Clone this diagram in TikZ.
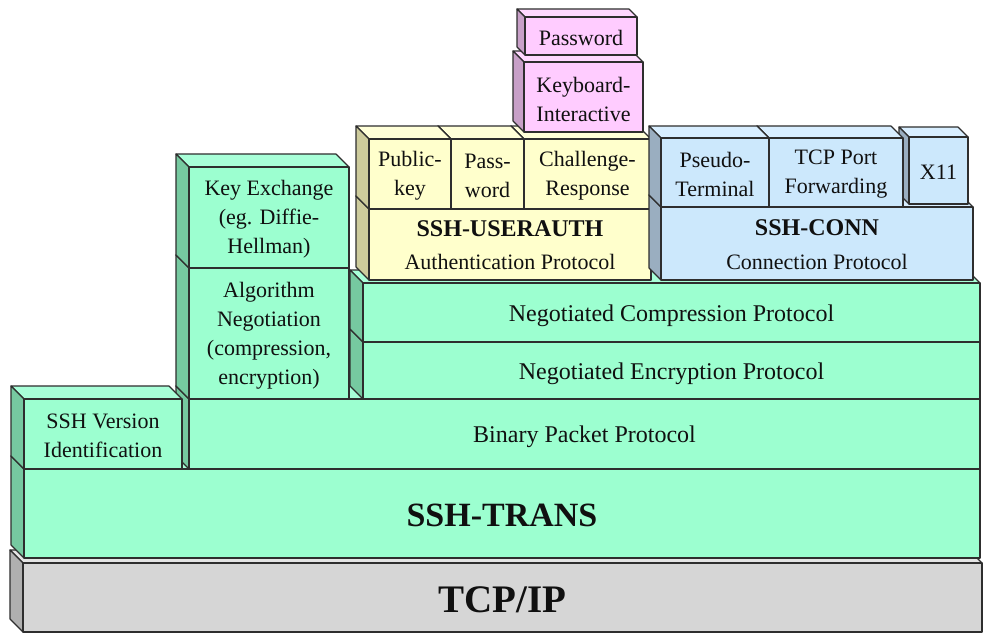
\documentclass[tikz,border=0pt]{standalone}
\usepackage{fontspec}
\setmainfont{Liberation Serif}
\definecolor{edge}{HTML}{2E2E2E}
\definecolor{ink}{HTML}{101010}
\definecolor{gF}{HTML}{9CFFD0}
\definecolor{gS}{HTML}{76C9A0}
\definecolor{gT}{HTML}{A8FFD8}
\definecolor{yF}{HTML}{FFFFCC}
\definecolor{yS}{HTML}{CDCB9C}
\definecolor{yT}{HTML}{FFFFD8}
\definecolor{pF}{HTML}{FFCCFF}
\definecolor{pS}{HTML}{C8A0C8}
\definecolor{pT}{HTML}{FFD8FF}
\definecolor{bF}{HTML}{CCE8FC}
\definecolor{bS}{HTML}{9AAEC0}
\definecolor{bT}{HTML}{D8EEFF}
\definecolor{kF}{HTML}{D6D6D6}
\definecolor{kS}{HTML}{B0B0B0}
\definecolor{kT}{HTML}{E4E4E4}
\tikzset{
  face/.style={draw=edge, line width=1.1pt, line join=round},
  txt/.style={text=ink, align=center, inner sep=0pt, yshift=-2pt, font=\fontsize{22}{29}\selectfont},
  big/.style={txt, yshift=-1pt, font=\fontsize{24}{29}\selectfont},
  huge/.style={txt, font=\fontsize{34}{40}\selectfont\bfseries},
  giant/.style={txt, font=\fontsize{39}{44}\selectfont\bfseries},
}
% name, x1, y1, x2, y2, depth, scheme, text, style
\newcommand{\layerbox}[9]{%
  \filldraw[face, fill=#7T] (#2,#3) -- (#4,#3) -- (#4-#6,#3-#6) -- (#2-#6,#3-#6) -- cycle;
  \filldraw[face, fill=#7S] (#2,#3) -- (#2-#6,#3-#6) -- (#2-#6,#5-#6) -- (#2,#5) -- cycle;
  \filldraw[face, fill=#7F] (#2,#3) rectangle (#4,#5);
  \node[#9] (#1) at ({(#2+#4)/2},{(#3+#5)/2}) {#8};
}
\begin{document}
\begin{tikzpicture}[x=1pt,y=-1pt]
\useasboundingbox (0,0) rectangle (994,643);
\fill[white] (0,0) rectangle (994,643);
% base
\layerbox{tcpip}{23}{563}{982}{632}{13}{k}{TCP/IP}{giant}
\layerbox{trans}{24}{469}{980}{558}{13}{g}{SSH-TRANS}{huge}
\layerbox{bpp}{189}{399}{980}{469}{13}{g}{Binary Packet Protocol}{big}
\layerbox{ver}{24}{399}{182}{469}{13}{g}{SSH Version\\Identification}{txt}
\layerbox{enc}{363}{342}{980}{399}{13}{g}{Negotiated Encryption Protocol}{big}
\layerbox{comp}{363}{283}{980}{342}{13}{g}{Negotiated Compression Protocol}{big}
\layerbox{alg}{189}{268}{349}{399}{13}{g}{Algorithm\\Negotiation\\(compression,\\encryption)}{txt}
\layerbox{kex}{189}{167}{349}{268}{13}{g}{Key Exchange\\(eg. Diffie-\\Hellman)}{txt}
% user auth
\layerbox{auth}{369}{209}{651}{280}{13}{y}{}{txt}
\node[txt, yshift=2pt, font=\fontsize{24}{29}\selectfont\bfseries] (authA) at (510,229) {SSH-USERAUTH};
\node[txt, yshift=2pt] (authB) at (510,262) {Authentication Protocol};
\layerbox{chal}{524}{139}{651}{209}{13}{y}{Challenge-\\Response}{txt}
\layerbox{pw}{451}{139}{524}{209}{13}{y}{Pass-\\word}{txt}
\layerbox{pk}{369}{139}{451}{209}{13}{y}{Public-\\key}{txt}
\layerbox{kbd}{524}{62}{643}{132}{11}{p}{Keyboard-\\Interactive}{txt}
\layerbox{pwt}{525}{17}{637}{55}{8}{p}{Password}{txt}
% connection
\layerbox{conn}{661}{207}{973}{280}{12}{b}{}{txt}
\node[txt, yshift=2pt, font=\fontsize{24}{29}\selectfont\bfseries] (connA) at (817,228) {SSH-CONN};
\node[txt, yshift=2pt] (connB) at (817,262) {Connection Protocol};
\layerbox{x11}{909}{137}{968}{204}{10}{b}{X11}{txt}
\layerbox{tcpf}{769}{138}{903}{207}{12}{b}{TCP Port\\Forwarding}{txt}
\layerbox{pty}{661}{138}{769}{207}{12}{b}{Pseudo-\\Terminal}{txt}
\end{tikzpicture}
\end{document}
